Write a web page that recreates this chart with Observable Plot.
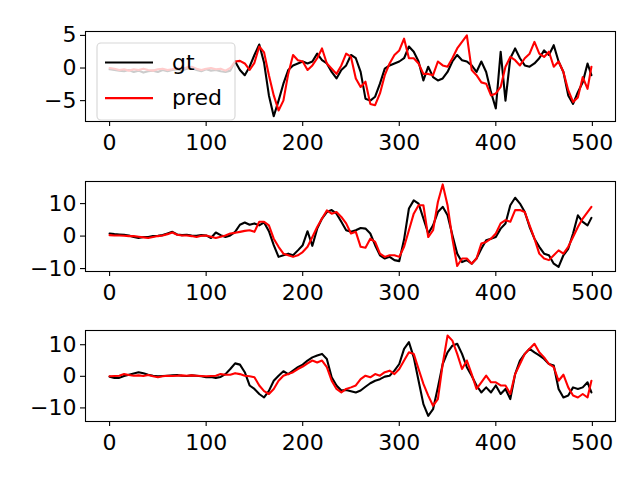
<!DOCTYPE html>
<html><head><meta charset="utf-8">
<script src="https://cdn.jsdelivr.net/npm/d3@7"></script>
<script src="https://cdn.jsdelivr.net/npm/@observablehq/plot@0.6"></script>
<style>
body{margin:0;background:#fff;width:640px;height:480px;overflow:hidden}
#c svg{display:block}
</style>
</head><body><div id="c"></div>
<script>
const xs = [0,5,10,15,20,25,30,35,40,45,
50,55,60,65,70,75,80,85,90,95,
100,105,110,115,120,125,130,135,140,145,
150,155,160,165,170,175,180,185,190,195,
200,205,210,215,220,225,230,235,240,245,
250,255,260,265,270,275,280,285,290,295,
300,305,310,315,320,325,330,335,340,345,
350,355,360,365,370,375,380,385,390,395,
400,405,410,415,420,425,430,435,440,445,
450,455,460,465,470,475,480,485,490,495,499];

const gt1 = [-0.2,-0.3,-0.4,-0.5,-0.3,-0.6,-0.4,-0.7,-0.5,-0.4,
-0.6,-0.3,-0.5,-0.3,-0.2,-0.4,-0.1,0.0,-0.3,-0.5,
-0.2,-0.4,-0.3,-0.5,-0.6,-0.4,1.0,-0.3,-1.1,0.2,
2.0,3.6,0.8,-4.2,-7.4,-5.0,-2.4,-0.3,0.4,0.7,
1.0,0.7,1.0,2.2,1.2,0.7,-0.6,-1.6,-0.3,0.4,
2.0,1.5,-0.6,-4.7,-5.0,-4.4,-2.4,-0.1,0.4,0.7,
1.0,1.5,3.3,2.5,1.0,-1.9,0.2,-1.4,-1.9,-1.6,
-0.6,1.0,2.0,1.2,1.0,0.4,-0.6,1.0,-0.6,-3.7,
-6.2,2.5,-5.0,1.5,3.0,1.5,0.4,0.2,0.7,1.5,
2.7,2.0,3.5,1.0,-0.6,-4.2,-5.5,-3.7,-2.2,0.7,-1.1];

const pred1 = [0.0,-0.1,-0.3,-0.2,-0.4,-0.2,-0.3,-0.1,-0.3,-0.4,
-0.2,-0.1,-0.3,-0.2,0.0,-0.2,0.1,0.2,-0.1,-0.3,
-0.1,0.0,-0.2,-0.1,-0.4,0.0,1.0,1.1,0.7,-0.3,
0.8,3.3,2.4,-1.1,-4.2,-6.5,-5.0,-0.9,2.0,1.2,
1.0,-0.3,0.4,1.5,3.0,0.7,-0.1,-0.9,0.4,2.2,
1.7,-1.6,-2.9,-2.1,-5.5,-5.7,-3.9,-1.1,0.7,2.0,
2.7,4.5,1.5,1.5,0.7,-0.9,-0.9,-1.1,1.0,0.4,
0.2,1.5,3.0,4.0,5.0,-0.3,-1.1,-2.2,-2.4,-4.2,
-3.9,-2.9,0.2,1.7,1.2,0.4,1.5,2.2,4.0,2.2,
1.7,2.5,0.2,1.0,-0.6,-3.4,-5.2,-4.5,-1.4,-3.2,0.2];

const gt2 = [0.8,0.6,0.5,0.4,0.2,-0.3,-0.6,-0.3,-0.3,0.0,
0.1,0.3,0.8,1.3,0.5,0.3,0.4,0.2,0.1,0.3,
0.2,-0.6,1.1,0.3,-0.3,0.2,1.3,3.5,4.2,3.5,
3.9,3.3,4.2,1.5,-2.8,-6.4,-5.9,-5.4,-5.9,-4.4,
-2.8,1.5,-3.0,2.3,5.4,7.4,8.0,6.9,4.4,1.8,
1.3,1.8,2.5,2.3,0.8,-2.8,-5.9,-6.9,-6.4,-7.4,
-7.7,-1.0,8.5,11.0,10.0,5.4,0.8,3.3,7.4,9.0,
6.4,0.3,-5.4,-8.0,-7.4,-8.5,-6.9,-3.9,-1.3,-0.8,
-0.3,2.3,3.9,9.5,11.8,10.0,7.4,2.8,-0.8,-3.3,
-5.4,-5.9,-8.5,-9.5,-5.9,-3.9,0.8,6.4,4.4,3.3,5.6];

const pred2 = [0.3,0.2,0.2,0.1,0.0,0.0,-0.2,-0.4,-0.6,-0.3,
0.0,0.2,0.6,1.1,0.4,0.2,0.2,0.0,-0.3,0.1,
0.2,-0.2,-0.6,-0.2,0.2,0.8,1.0,1.3,1.6,1.8,
1.3,4.4,4.4,3.3,-0.8,-3.3,-5.4,-5.9,-6.4,-5.9,
-4.9,-3.3,-0.3,2.8,5.4,7.9,6.9,7.4,5.9,3.9,
0.8,1.3,-3.3,-3.6,-0.8,-1.8,-5.4,-6.4,-5.9,-5.9,
-6.4,-3.3,1.8,6.9,9.5,9.5,-0.3,1.8,10.5,15.9,
9.5,-0.8,-9.2,-6.9,-6.9,-8.5,-6.9,-2.3,-1.8,-0.8,
0.8,3.9,4.9,4.4,8.0,8.0,7.4,3.3,-0.8,-5.4,
-6.9,-7.4,-5.9,-4.4,-5.4,-3.3,-0.3,2.8,5.4,7.4,9.0];

const gt3 = [-0.1,-0.5,-0.5,0.1,0.5,0.9,1.3,1.0,0.5,0.2,
0.0,0.1,0.2,0.3,0.4,0.2,0.1,0.3,0.2,0.0,
-0.3,-0.2,-0.5,-0.2,0.7,2.3,4.1,3.7,1.3,-2.9,
-4.0,-5.6,-6.7,-4.6,-1.4,0.2,1.6,0.7,1.8,2.9,
3.7,5.0,6.0,6.6,7.1,5.5,-0.3,-2.9,-4.5,-4.3,
-4.7,-5.1,-4.5,-3.3,-2.2,-1.4,-0.9,-0.1,0.2,1.8,
3.9,8.7,10.8,6.0,-1.4,-8.8,-12.5,-10.4,-3.5,3.9,
7.6,9.7,10.3,7.1,2.9,0.2,-2.9,-5.1,-3.5,-5.1,
-2.9,-5.6,-4.0,-7.2,0.7,5.0,7.1,8.7,7.6,6.6,
5.5,3.9,3.4,-4.0,-6.7,-6.1,-3.5,-4.0,-3.5,-1.9,-5.1];

const pred3 = [0.0,0.1,0.2,0.7,0.4,0.2,0.3,0.1,0.4,0.0,
-0.3,0.0,0.2,0.1,0.2,0.3,0.2,0.3,0.2,0.1,
0.0,0.1,0.2,0.7,0.5,0.5,1.0,0.7,0.2,0.0,
-0.3,-2.9,-4.7,-5.6,-4.0,-1.4,0.2,0.7,1.3,2.3,
3.1,4.1,5.0,4.4,5.0,2.9,-1.4,-4.0,-5.1,-4.0,
-3.5,-2.9,-0.9,0.2,-0.3,0.7,0.2,1.3,1.8,0.7,
2.3,5.0,7.6,7.1,2.3,-2.4,-6.1,-9.3,-7.2,3.9,
12.9,11.3,7.1,2.3,5.0,0.7,-4.0,-1.9,0.2,-1.9,
-1.9,-2.9,-2.9,-5.6,0.7,3.9,7.1,8.7,10.3,7.6,
6.0,3.9,2.9,-1.4,0.5,-3.5,-6.1,-6.7,-5.6,-6.7,-1.4];

const xTicks = [0,100,200,300,400,500];
const yTicks1 = [-5,0,5];
const yTicks2 = [-10,0,10];
const yTicks3 = [-10,0,10];
const seriesNames = ["gt","pred"];
const seriesColors = ["black","red"];

const xDomain = [-24.95, 523.95];
const panels = [
  {gt: gt1, pred: pred1, yDomain: [-8.2, 5.6], yTicks: yTicks1, height: 150, mt: 31, mb: 29, legend: true},
  {gt: gt2, pred: pred2, yDomain: [-10.9, 16.8], yTicks: yTicks2, height: 150, mt: 31, mb: 29},
  {gt: gt3, pred: pred3, yDomain: [-14.3, 14.5], yTicks: yTicks3, height: 180, mt: 30, mb: 59}
];

function panel(p) {
  const svg = Plot.plot({
    width: 640, height: p.height,
    marginLeft: 85, marginRight: 25, marginTop: p.mt, marginBottom: p.mb,
    style: {fontFamily: "DejaVu Sans", fontSize: "22px", background: "white", color: "black", overflow: "visible"},
    x: {domain: xDomain},
    y: {domain: p.yDomain},
    marks: [
      Plot.axisX({ticks: xTicks, tickSize: 5, tickPadding: 8, label: null, strokeWidth: 1.1, fontSize: 22}),
      Plot.axisY({ticks: p.yTicks, tickSize: 5, tickPadding: 4, label: null, strokeWidth: 1.1, fontSize: 22}),
      Plot.line(p.gt, {x: xs, y: p.gt, stroke: seriesColors[0], strokeWidth: 2.1}),
      Plot.line(p.pred, {x: xs, y: p.pred, stroke: seriesColors[1], strokeWidth: 2.1}),
      Plot.frame({stroke: "black", strokeWidth: 1.1})
    ]
  });
  if (p.legend) {
    const g = d3.select(svg).append("g");
    g.append("rect").attr("x", 97).attr("y", 43).attr("width", 138).attr("height", 77)
      .attr("rx", 4).attr("fill", "white").attr("fill-opacity", 0.8)
      .attr("stroke", "#cccccc").attr("stroke-opacity", 0.8).attr("stroke-width", 1.1);
    seriesNames.forEach((name, i) => {
      const cy = 62.5 + i * 35.6;
      g.append("line").attr("x1", 105).attr("x2", 153).attr("y1", cy).attr("y2", cy)
        .attr("stroke", seriesColors[i]).attr("stroke-width", 2.1);
      g.append("text").attr("x", 172).attr("y", cy + 7.3)
        .attr("text-anchor", "start")
        .attr("font-family", "DejaVu Sans").attr("font-size", 22).attr("fill", "black")
        .text(name);
    });
  }
  return svg;
}

const c = document.getElementById("c");
panels.forEach(p => c.appendChild(panel(p)));
</script>
</body></html>
